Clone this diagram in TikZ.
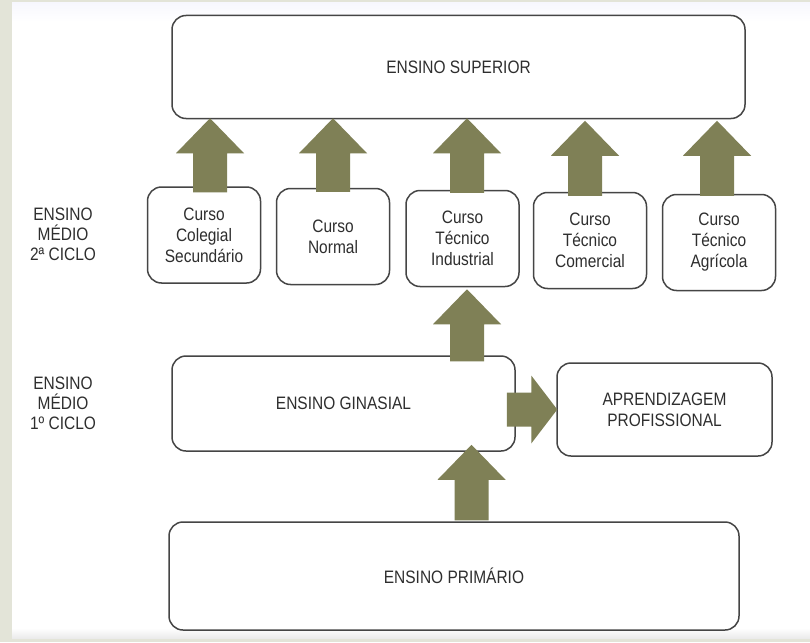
\documentclass[tikz,border=0pt]{standalone}
\usepackage{fontspec}
\setmainfont{Liberation Sans}[FakeStretch=0.86]
\usetikzlibrary{calc}
\definecolor{beige}{HTML}{E3E4D8}
\definecolor{olivearr}{HTML}{7F8056}
\definecolor{boxline}{HTML}{454545}
\definecolor{txt}{HTML}{2E2E2E}
\newcommand{\blkup}[2]{%
  \fill[olivearr] let \p1=(#1), \p2=(#2) in
   (\x1-17pt,\y1) -- (\x1-17pt,\y2-35pt) -- (\x1-34pt,\y2-35pt) -- (\x1,\y2)
   -- (\x1+34pt,\y2-35pt) -- (\x1+17pt,\y2-35pt) -- (\x1+17pt,\y1) -- cycle;}
\begin{document}
\begin{tikzpicture}[x=1pt,y=-1pt,
  box/.style={draw=boxline,line width=1.5pt,rounded corners=14pt,fill=white,
    align=center,text=txt,font=\fontsize{18}{21}\selectfont,inner sep=0pt},
  curso/.style={box,minimum width=113pt,minimum height=96pt},
  lbl/.style={align=center,text=txt,font=\fontsize{18}{20}\selectfont}]
\useasboundingbox (0,0) rectangle (810,642);
\fill[beige] (0,0) rectangle (810,642);
\fill[white] (12,3) rectangle (810,638);
\shade[top color=black!14!blue!3!white,bottom color=white] (12,3) rectangle (810,22);
\shade[top color=white,bottom color=black!8] (12,628) rectangle (810,638);
% nodes
\node[box,minimum width=573pt,minimum height=103pt,text depth=-8pt] (sup) at (458.5,67) {ENSINO SUPERIOR};
\node[curso] (c1) at (204,235) {Curso\\Colegial\\Secundário};
\node[curso] (c2) at (333,236.5) {Curso\\Normal};
\node[curso] (c3) at (462.5,238.5) {Curso\\Técnico\\Industrial};
\node[curso] (c4) at (590,240.5) {Curso\\Técnico\\Comercial};
\node[curso] (c5) at (719,242.5) {Curso\\Técnico\\Agrícola};
\node[box,minimum width=343pt,minimum height=95pt] (gin) at (343.5,403.5) {ENSINO GINASIAL};
\node[box,minimum width=215pt,minimum height=93pt] (apr) at (664.5,409.5) {APRENDIZAGEM\\PROFISSIONAL};
\node[box,minimum width=570pt,minimum height=108pt] (pri) at (454,576) {ENSINO PRIMÁRIO};
\node[lbl] (l2) at (63,234) {ENSINO\\MÉDIO\\2ª CICLO};
\node[lbl] (l1) at (63,403) {ENSINO\\MÉDIO\\1º CICLO};
% arrows
\blkup{$(c1.north)+(6,6)$}{$(c1.north|-sup.south)+(6,-1)$}
\blkup{$(c2.north)+(0,4)$}{$(c2.north|-sup.south)+(0,-1)$}
\blkup{$(c3.north)+(4.5,3)$}{$(c3.north|-sup.south)+(4.5,-1)$}
\blkup{$(c4.north)+(-5,4)$}{$(c4.north|-sup.south)+(-5,1.5)$}
\blkup{$(c5.north)+(-2,2)$}{$(c5.north|-sup.south)+(-2,1.5)$}
\blkup{$(gin.north-|c3.north)+(4.5,6)$}{$(c3.south)+(4.5,2)$}
\blkup{$(pri.north-|gin.south)+(128,-1)$}{$(gin.south)+(128,-7)$}
\fill[olivearr] let \p1=(gin.east), \p2=(apr.west) in
  (\x1-9pt,\y2+17pt) -- (\x2-25pt,\y2+17pt) -- (\x2-25pt,\y2+34pt) -- (\x2+1pt,\y2)
  -- (\x2-25pt,\y2-34pt) -- (\x2-25pt,\y2-17pt) -- (\x1-9pt,\y2-17pt) -- cycle;
\end{tikzpicture}
\end{document}
